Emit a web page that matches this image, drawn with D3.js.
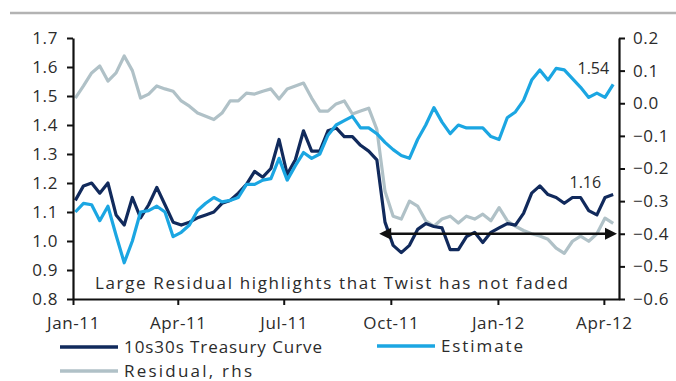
<!DOCTYPE html>
<html>
<head>
<meta charset="utf-8">
<script src="https://cdn.jsdelivr.net/npm/d3@7"></script>
<style>
  html, body { margin: 0; padding: 0; background: #fff; }
  svg { display: block; }
  text { font-family: "Open Sans", "DejaVu Sans", sans-serif; fill: #2b2b2b; }
</style>
</head>
<body>
<svg id="chart" width="676" height="381"></svg>
<script>
// Weekly observations (Mondays), Jan 2011 – Apr 2012
const firstWeek = new Date(2011, 0, 3);
const lastWeek = new Date(2012, 3, 9);

// 10s30s Treasury curve (%, left axis)
const treasury = [
  1.14, 1.19, 1.20, 1.165, 1.20, 1.09, 1.055, 1.15, 1.08, 1.125,
  1.185, 1.125, 1.065, 1.055, 1.065, 1.08, 1.09, 1.10, 1.13, 1.14,
  1.165, 1.195, 1.24, 1.22, 1.25, 1.35, 1.23, 1.28, 1.38, 1.31,
  1.31, 1.38, 1.39, 1.36, 1.36, 1.33, 1.31, 1.28, 1.065, 0.985,
  0.96, 0.985, 1.04, 1.06, 1.05, 1.045, 0.97, 0.97, 1.015, 1.03,
  0.995, 1.03, 1.045, 1.06, 1.055, 1.095, 1.165, 1.19, 1.16, 1.15,
  1.13, 1.15, 1.15, 1.105, 1.09, 1.15, 1.16
];

// Model estimate (%, left axis)
const estimate = [
  1.10, 1.13, 1.125, 1.07, 1.12, 1.02, 0.925, 1.00, 1.10, 1.105,
  1.12, 1.10, 1.015, 1.03, 1.055, 1.105, 1.13, 1.15, 1.135, 1.14,
  1.15, 1.195, 1.195, 1.21, 1.215, 1.285, 1.21, 1.26, 1.305, 1.285,
  1.30, 1.365, 1.40, 1.415, 1.43, 1.39, 1.39, 1.37, 1.34, 1.315,
  1.295, 1.285, 1.35, 1.40, 1.46, 1.41, 1.37, 1.40, 1.39, 1.39,
  1.39, 1.36, 1.35, 1.425, 1.445, 1.485, 1.555, 1.59, 1.555, 1.595,
  1.59, 1.56, 1.53, 1.495, 1.51, 1.495, 1.54
];

// Residual (right axis)
const residual = [
  0.016, 0.053, 0.093, 0.114, 0.068, 0.093, 0.145, 0.10, 0.016, 0.028,
  0.053, 0.044, 0.037, 0.007, -0.009, -0.03, -0.04, -0.05, -0.03, 0.007,
  0.007, 0.031, 0.028, 0.037, 0.044, 0.013, 0.044, 0.053, 0.062, 0.016,
  -0.024, -0.024, -0.002, 0.007, -0.033, -0.024, -0.015, -0.08, -0.27, -0.346,
  -0.355, -0.30, -0.315, -0.36, -0.377, -0.355, -0.346, -0.367, -0.346, -0.355,
  -0.34, -0.36, -0.32, -0.36, -0.377, -0.39, -0.40, -0.407, -0.417, -0.444,
  -0.46, -0.423, -0.407, -0.423, -0.40, -0.352, -0.368
];

const leftTicks = [0.8, 0.9, 1.0, 1.1, 1.2, 1.3, 1.4, 1.5, 1.6, 1.7];
const rightTicks = [-0.6, -0.5, -0.4, -0.3, -0.2, -0.1, 0.0, 0.1, 0.2];
const endLabels = ["1.54", "1.16"];
const twistDate = new Date(2011, 8, 21);
const twistLevel = -0.4;
const note = "Large Residual highlights that Twist has not faded";
const seriesNames = ["10s30s Treasury Curve", "Estimate", "Residual, rhs"];

const colors = { treasury: "#112a5c", estimate: "#1ba6e2", residual: "#b0c1c7" };

const dates = d3.timeMonday.range(firstWeek, d3.timeDay.offset(lastWeek, 1));

const svg = d3.select("#chart");

// Thin rule across the top
svg.append("line")
  .attr("x1", 10).attr("x2", 676).attr("y1", 13).attr("y2", 13)
  .attr("stroke", "#b3b3b3").attr("stroke-width", 2.5);

const plot = { left: 73, right: 619, top: 38, bottom: 299 };

const x = d3.scaleTime()
  .domain([new Date(2011, 0, 1), new Date(2012, 3, 14)])
  .range([plot.left, plot.right]);
const yL = d3.scaleLinear().domain([0.8, 1.7]).range([plot.bottom, plot.top]);
const yR = d3.scaleLinear().domain([-0.6, 0.2]).range([plot.bottom, plot.top]);

const lineL = d3.line().x((d, i) => x(dates[i])).y(d => yL(d));
const lineR = d3.line().x((d, i) => x(dates[i])).y(d => yR(d));

// Series
svg.append("path").datum(residual).attr("d", lineR)
  .attr("fill", "none").attr("stroke", colors.residual)
  .attr("stroke-width", 3.2).attr("stroke-linejoin", "round");
svg.append("path").datum(treasury).attr("d", lineL)
  .attr("fill", "none").attr("stroke", colors.treasury)
  .attr("stroke-width", 3.2).attr("stroke-linejoin", "round");
svg.append("path").datum(estimate).attr("d", lineL)
  .attr("fill", "none").attr("stroke", colors.estimate)
  .attr("stroke-width", 3.2).attr("stroke-linejoin", "round");

// Axes
const fontSize = 17;
function styleAxis(g) {
  g.select(".domain").attr("stroke", "#111").attr("stroke-width", 2.2);
  g.selectAll(".tick line").attr("stroke", "#111").attr("stroke-width", 2);
  g.selectAll(".tick text")
    .attr("font-size", fontSize).attr("letter-spacing", 0.6)
    .attr("fill", "#2b2b2b")
    .style("font-family", '"Open Sans", "DejaVu Sans", sans-serif');
}

svg.append("g").attr("transform", `translate(${plot.left},0)`)
  .call(d3.axisLeft(yL).tickValues(leftTicks).tickFormat(d3.format(".1f"))
    .tickSize(6).tickSizeOuter(0).tickPadding(9))
  .call(styleAxis);

svg.append("g").attr("transform", `translate(${plot.right},0)`)
  .call(d3.axisRight(yR).tickValues(rightTicks).tickFormat(d3.format(".1f"))
    .tickSize(6).tickSizeOuter(0).tickPadding(8))
  .call(styleAxis);

svg.append("g").attr("transform", `translate(0,${plot.bottom})`)
  .call(d3.axisBottom(x).ticks(d3.timeMonth.every(3)).tickFormat(d3.timeFormat("%b-%y"))
    .tickSize(6).tickSizeOuter(0).tickPadding(12))
  .call(styleAxis);

// Double-headed arrow at the residual level since Twist
const arrowY = yR(twistLevel);
const ax0 = x(twistDate), ax1 = plot.right - 2;
svg.append("line")
  .attr("x1", ax0 + 8).attr("x2", ax1 - 8).attr("y1", arrowY).attr("y2", arrowY)
  .attr("stroke", "#111").attr("stroke-width", 2.5);
svg.append("path")
  .attr("d", `M${ax0},${arrowY} L${ax0 + 12},${arrowY - 6} L${ax0 + 12},${arrowY + 6} Z`)
  .attr("fill", "#111");
svg.append("path")
  .attr("d", `M${ax1},${arrowY} L${ax1 - 12},${arrowY - 6} L${ax1 - 12},${arrowY + 6} Z`)
  .attr("fill", "#111");

// End-value labels
const lastDate = dates[dates.length - 1];
svg.append("text")
  .attr("x", x(lastDate) - 4).attr("y", yL(estimate[estimate.length - 1]) - 10)
  .attr("text-anchor", "end").attr("font-size", 16).attr("fill", "#444")
  .text(endLabels[0]);
svg.append("text")
  .attr("x", x(lastDate) - 12).attr("y", yL(treasury[treasury.length - 1]) - 7)
  .attr("text-anchor", "end").attr("font-size", 16).attr("fill", "#444")
  .text(endLabels[1]);

// Annotation
svg.append("text")
  .attr("x", 95).attr("y", 289)
  .attr("font-size", fontSize)
  .attr("textLength", 473).attr("lengthAdjust", "spacing")
  .text(note);

// Legend
const legend = [
  { name: seriesNames[0], color: colors.treasury, x: 60, y: 347, w: 198 },
  { name: seriesNames[1], color: colors.estimate, x: 377, y: 346, w: 82 },
  { name: seriesNames[2], color: colors.residual, x: 60, y: 371, w: 128 }
];
legend.forEach(l => {
  svg.append("line")
    .attr("x1", l.x).attr("x2", l.x + 58).attr("y1", l.y).attr("y2", l.y)
    .attr("stroke", l.color).attr("stroke-width", 3.5);
  svg.append("text")
    .attr("x", l.x + 64).attr("y", l.y + 6)
    .attr("font-size", fontSize)
    .attr("textLength", l.w).attr("lengthAdjust", "spacing")
    .text(l.name);
});
</script>
</body>
</html>
